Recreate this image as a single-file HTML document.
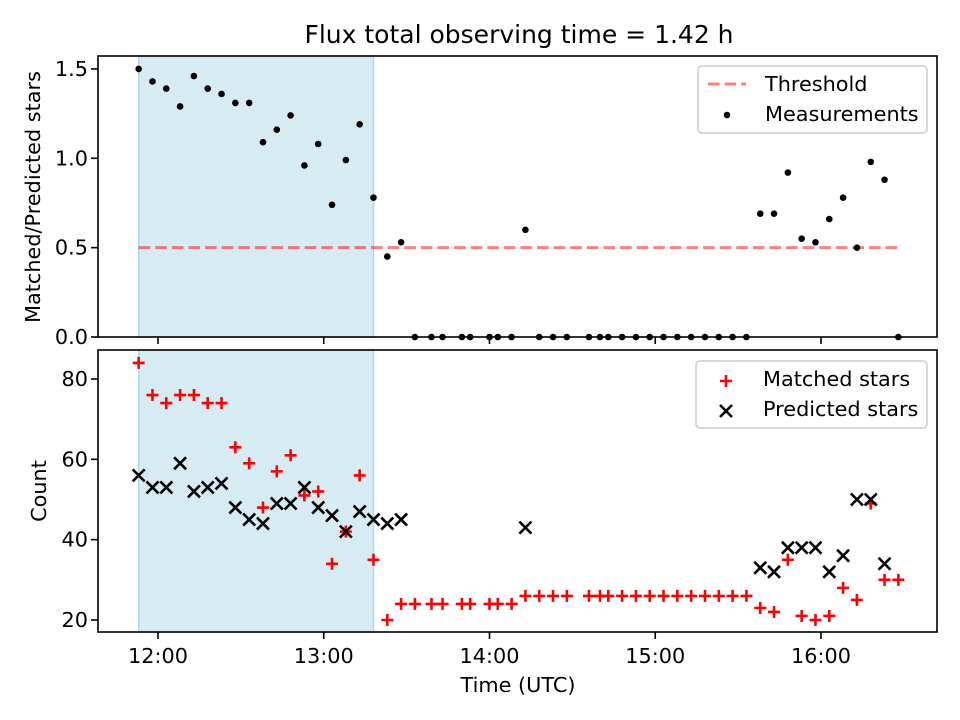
<!DOCTYPE html>
<html><head><meta charset="utf-8"><style>
body{margin:0;background:#fff}
svg{display:block;font-family:"DejaVu Sans","Liberation Sans",sans-serif}
</style></head><body>
<svg id="chart" width="960" height="720" viewBox="0 0 960 720" xmlns="http://www.w3.org/2000/svg">
<rect width="960" height="720" fill="#fff"/>
<text x="519" y="43" font-size="25" text-anchor="middle">Flux total observing time = 1.42 h</text>
<g id="gtop"></g>
<g id="gbot"></g>
</svg>
<script>
const times = ["11:53","11:58","12:03","12:08","12:13","12:18","12:23","12:28","12:33","12:38","12:43","12:48","12:53","12:58","13:03","13:08","13:13","13:18","13:23","13:28","13:33","13:39","13:43","13:50","13:53","14:00","14:03","14:08","14:13","14:18","14:23","14:28","14:36","14:40","14:43","14:48","14:53","14:58","15:03","15:08","15:13","15:18","15:23","15:28","15:33","15:38","15:43","15:48","15:53","15:58","16:03","16:08","16:13","16:18","16:23","16:28"];
const ratio = [1.50,1.43,1.39,1.29,1.46,1.39,1.36,1.31,1.31,1.09,1.16,1.24,0.96,1.08,0.74,0.99,1.19,0.78,0.45,0.53,0,0,0,0,0,0,0,0,0.60,0,0,0,0,0,0,0,0,0,0,0,0,0,0,0,0,0.69,0.69,0.92,0.55,0.53,0.66,0.78,0.50,0.98,0.88,0];
const matched = [84,76,74,76,76,74,74,63,59,48,57,61,51,52,34,42,56,35,20,24,24,24,24,24,24,24,24,24,26,26,26,26,26,26,26,26,26,26,26,26,26,26,26,26,26,23,22,35,21,20,21,28,25,49,30,30];
const predicted = [56,53,53,59,52,53,54,48,45,44,49,49,53,48,46,42,47,45,44,45,null,null,null,null,null,null,null,null,43,null,null,null,null,null,null,null,null,null,null,null,null,null,null,null,null,33,32,38,38,38,32,36,50,50,34,null];
const threshold = 0.5;
const shadeStart = "11:53", shadeEnd = "13:18";
const xTickLabels = ["12:00","13:00","14:00","15:00","16:00"];
const topTicks = [0,0.5,1.0,1.5];
const botTicks = [20,40,60,80];

const NS="http://www.w3.org/2000/svg";
const L=98,R=937;
const FS=20.8;
function hrs(t){const p=t.split(":");return +p[0]+(+p[1])/60;}
function xs(t){return 158+(hrs(t)-12)*165.75;}
function yTop(v){return 337-v*178.7;}
function yBot(v){return 620-(v-20)*4.017;}
function mk(par,tag,attrs){const e=document.createElementNS(NS,tag);for(const k in attrs)e.setAttribute(k,attrs[k]);par.appendChild(e);return e;}
const gTop=document.getElementById('gtop'), gBot=document.getElementById('gbot');

function panel(g,y0,y1,name){
  let r=mk(g,'rect',{x:xs(shadeStart),y:y0,width:xs(shadeEnd)-xs(shadeStart),height:y1-y0,fill:'#add8e6','fill-opacity':0.5,stroke:'#add8e6','stroke-width':1.5});
  
  
}
panel(gTop,56,337,'top');
panel(gBot,350,632,'bottom');

let th=mk(gTop,'line',{x1:xs(times[0]),x2:xs(times[times.length-1]),y1:yTop(threshold),y2:yTop(threshold),stroke:'#ff0000','stroke-opacity':0.5,'stroke-width':3,'stroke-dasharray':'11.6,5'});



ratio.forEach((v,i)=>{
  const c=mk(gTop,'circle',{cx:xs(times[i]),cy:yTop(v),r:3.3,fill:'#000'});
  
  
});
matched.forEach((v,i)=>{
  const x=xs(times[i]),y=yBot(v);
  const p=mk(gBot,'path',{d:`M${x-6},${y}H${x+6}M${x},${y-6}V${y+6}`,stroke:'#ff0000','stroke-width':2.6});
  
  
});
predicted.forEach((v,i)=>{
  if(v===null)return;
  const x=xs(times[i]),y=yBot(v);
  const p=mk(gBot,'path',{d:`M${x-6},${y-6}L${x+6},${y+6}M${x-6},${y+6}L${x+6},${y-6}`,stroke:'#000','stroke-width':2.6});
  
  
});

function frame(g,y0,y1,name){
  const f=mk(g,'rect',{x:L,y:y0,width:R-L,height:y1-y0,fill:'none',stroke:'#000','stroke-width':1.6});
  
  
}
frame(gTop,56,337,'top');frame(gBot,350,632,'bottom');

xTickLabels.forEach(t=>{
  const x=xs(t);
  const a=mk(gTop,'line',{x1:x,x2:x,y1:337,y2:344,stroke:'#000','stroke-width':1.6});
  
  
  const b=mk(gBot,'line',{x1:x,x2:x,y1:632,y2:639,stroke:'#000','stroke-width':1.6});
  
  
  const tx=mk(gBot,'text',{x:x,y:663,'font-size':FS,'text-anchor':'middle'});
  tx.textContent=t;
  
  
});
topTicks.forEach(v=>{
  const y=yTop(v);
  const a=mk(gTop,'line',{x1:L-7,x2:L,y1:y,y2:y,stroke:'#000','stroke-width':1.6});
  
  
  const tx=mk(gTop,'text',{x:L-10,y:y+7,'font-size':FS,'text-anchor':'end'});
  tx.textContent=v.toFixed(1);
  
  
});
botTicks.forEach(v=>{
  const y=yBot(v);
  const a=mk(gBot,'line',{x1:L-7,x2:L,y1:y,y2:y,stroke:'#000','stroke-width':1.6});
  
  
  const tx=mk(gBot,'text',{x:L-10,y:y+7,'font-size':FS,'text-anchor':'end'});
  tx.textContent=String(v);
  
  
});
</script>
<svg style="position:absolute;left:0;top:0" width="960" height="720" font-family="DejaVu Sans, Liberation Sans, sans-serif">
<text x="518" y="692" font-size="20.8" text-anchor="middle">Time (UTC)</text>
<text transform="translate(40,197) rotate(-90)" font-size="20.8" text-anchor="middle">Matched/Predicted stars</text>
<text transform="translate(46,491) rotate(-90)" font-size="20.8" text-anchor="middle">Count</text>
<g font-size="20.8">
<rect x="698" y="66" width="229" height="67" rx="4" fill="#fff" fill-opacity="0.8" stroke="#ccc" stroke-width="1.5"/>
<line x1="708" y1="84" x2="746" y2="84" stroke="#ff0000" stroke-opacity="0.5" stroke-width="3" stroke-dasharray="11.6,5"/>
<text x="765" y="91">Threshold</text>
<circle cx="727" cy="115" r="3.3" fill="#000"/>
<text x="765" y="121">Measurements</text>
</g>
<g font-size="20.8">
<rect x="696" y="361" width="231" height="67" rx="4" fill="#fff" fill-opacity="0.8" stroke="#ccc" stroke-width="1.5"/>
<path d="M720,381H732M726,375V387" stroke="#ff0000" stroke-width="2.6"/>
<text x="763" y="386">Matched stars</text>
<path d="M720,405L732,417M720,417L732,405" stroke="#000" stroke-width="2.6"/>
<text x="763" y="416">Predicted stars</text>
</g>
</svg>
</body></html>
